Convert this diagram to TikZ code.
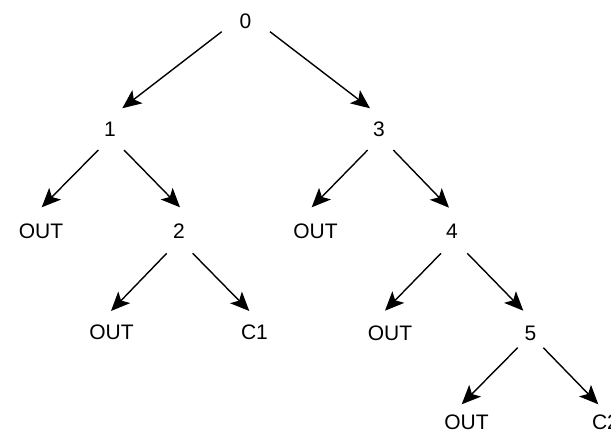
\documentclass[tikz,border=0pt]{standalone}
\usepackage{fontspec}
\setmainfont{Liberation Sans}
\usetikzlibrary{arrows.meta}
\begin{document}
\begin{tikzpicture}[x=1pt,y=-1pt,
  lbl/.style={inner sep=0pt, font=\fontsize{21}{25}\selectfont},
  arr/.style={line width=1.4pt, -{Stealth[length=19pt,width=16.5pt,inset=4.5pt]}}]
\useasboundingbox (0,0) rectangle (611,436);
% tree nodes
\node[lbl] (n0) at (245.5,21) {0};
\node[lbl] (n1) at (110,129.5) {1};
\node[lbl] (n3) at (379,129.5) {3};
\node[lbl] (o1) at (41,231) {OUT};
\node[lbl] (n2) at (179,231) {2};
\node[lbl] (o3) at (315.5,231) {OUT};
\node[lbl] (n4) at (452,231) {4};
\node[lbl] (o2) at (111.5,332.5) {OUT};
\node[lbl] (c1) at (254.5,332.5) {C1};
\node[lbl] (o4) at (390,333) {OUT};
\node[lbl] (n5) at (530.5,333) {5};
\node[lbl] (o5) at (466.5,422.5) {OUT};
\node[lbl] (c2) at (605.5,422.5) {C2};
% edges
\draw[arr] ([shift={(-23.8,10.7)}]n0.center) -- ([shift={(12.3,-21.2)}]n1.center);
\draw[arr] ([shift={(24.5,10.7)}]n0.center) -- ([shift={(-9,-21.2)}]n3.center);
\draw[arr] ([shift={(-11.7,20.5)}]n1.center) -- ([shift={(0.7,-23.7)}]o1.center);
\draw[arr] ([shift={(14,20.5)}]n1.center) -- ([shift={(1,-23.7)}]n2.center);
\draw[arr] ([shift={(-11.3,20.5)}]n3.center) -- ([shift={(-3.8,-23.7)}]o3.center);
\draw[arr] ([shift={(14.3,20.5)}]n3.center) -- ([shift={(-3,-23.3)}]n4.center);
\draw[arr] ([shift={(-12.3,22.3)}]n2.center) -- ([shift={(-0.5,-21.5)}]o2.center);
\draw[arr] ([shift={(13.7,22.3)}]n2.center) -- ([shift={(-5.2,-21.5)}]c1.center);
\draw[arr] ([shift={(-11,22.3)}]n4.center) -- ([shift={(-5,-22.3)}]o4.center);
\draw[arr] ([shift={(15.3,22.3)}]n4.center) -- ([shift={(-7.2,-22.3)}]n5.center);
\draw[arr] ([shift={(-12.8,14.7)}]n5.center) -- ([shift={(-4.8,-18.2)}]o5.center);
\draw[arr] ([shift={(12.8,14.7)}]n5.center) -- ([shift={(-7.2,-18.2)}]c2.center);
\end{tikzpicture}
\end{document}
